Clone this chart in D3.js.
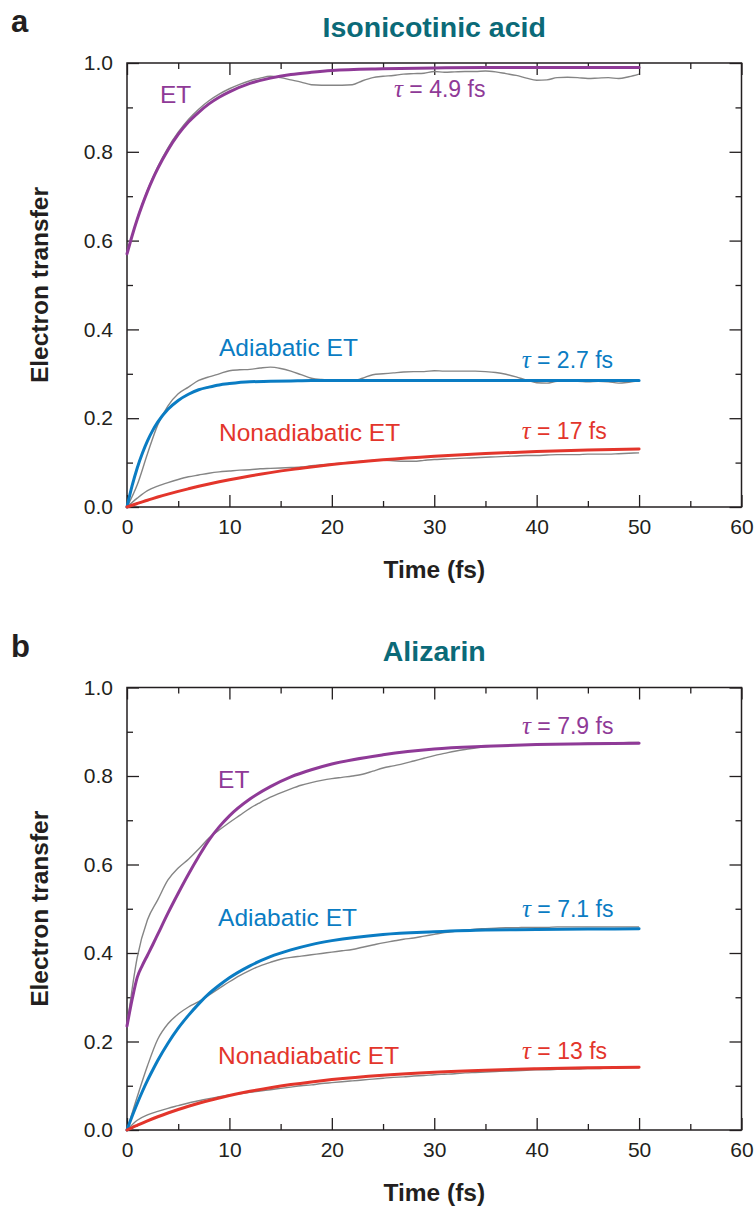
<!DOCTYPE html>
<html>
<head>
<meta charset="utf-8">
<script src="https://cdn.jsdelivr.net/npm/d3@7"></script>
<style>
  html, body { margin: 0; padding: 0; background: #fff; }
  svg { display: block; }
</style>
</head>
<body>
<svg id="chart" width="756" height="1208"></svg>
<script>
// ---- Time grids (fs) ----
const simTime = [0,1,2,3,4,5,6,7,8,9,10,11,12,13,14,15,16,17,18,19,20,21,22,23,24,25,
  26,27,28,29,30,31,32,33,34,35,36,37,38,39,40,41,42,43,44,45,46,47,48,49,50];
const fitTime = [0,0.5,1,1.5,2,2.5,3,4,5,6,7,8,9,10,12,14,16,18,20,25,30,35,40,45,50];

// ---- Panel a: isonicotinic acid ----
const isoEtSim = [0.570,0.650,0.714,0.766,0.809,0.844,0.873,0.896,0.915,0.930,0.942,0.952,0.960,0.966,0.970,
  0.967,0.962,0.957,0.951,0.950,0.950,0.950,0.951,0.960,0.967,0.970,0.972,0.975,0.976,0.977,0.981,0.979,
  0.980,0.981,0.981,0.982,0.980,0.976,0.972,0.966,0.961,0.962,0.967,0.968,0.967,0.965,0.966,0.967,0.965,0.969,0.975];
const isoAdiSim = [0,0.050,0.120,0.185,0.228,0.255,0.270,0.285,0.293,0.300,0.307,0.309,0.310,0.313,0.315,
  0.312,0.306,0.298,0.290,0.287,0.286,0.285,0.284,0.290,0.298,0.300,0.302,0.304,0.305,0.305,0.307,0.306,
  0.306,0.306,0.306,0.305,0.303,0.299,0.293,0.286,0.280,0.279,0.283,0.283,0.283,0.282,0.283,0.282,0.279,0.281,0.284];
const isoNonSim = [0,0.020,0.037,0.047,0.055,0.062,0.068,0.072,0.076,0.079,0.081,0.083,0.084,0.086,0.087,
  0.088,0.089,0.090,0.093,0.095,0.097,0.099,0.101,0.103,0.105,0.105,0.104,0.103,0.103,0.105,0.107,0.108,
  0.109,0.110,0.111,0.112,0.113,0.114,0.115,0.116,0.116,0.117,0.118,0.118,0.118,0.119,0.119,0.119,0.120,0.121,0.122];
const isoEtFit = [0.570,0.611,0.648,0.681,0.711,0.738,0.762,0.804,0.839,0.867,0.889,0.908,0.923,0.935,
  0.954,0.966,0.974,0.979,0.983,0.987,0.989,0.990,0.990,0.990,0.990];
const isoAdiFit = [0,0.048,0.088,0.121,0.149,0.172,0.191,0.220,0.240,0.254,0.264,0.270,0.275,0.278,
  0.282,0.283,0.284,0.285,0.285,0.285,0.285,0.285,0.285,0.285,0.285];
const isoNonFit = [0,0.0040,0.0079,0.0117,0.0153,0.0189,0.0224,0.0290,0.0352,0.0410,0.0466,0.0518,0.0567,
  0.0614,0.0699,0.0774,0.0842,0.0901,0.0955,0.1063,0.1144,0.1204,0.1249,0.1282,0.1306];
const isoTau = ["4.9", "2.7", "17"];

// ---- Panel b: alizarin ----
const aliEtSim = [0.235,0.390,0.475,0.520,0.565,0.592,0.612,0.635,0.660,0.678,0.695,0.711,0.727,0.740,0.752,
  0.762,0.771,0.779,0.785,0.790,0.794,0.797,0.800,0.804,0.811,0.818,0.823,0.828,0.834,0.840,0.846,0.851,
  0.856,0.860,0.863,0.866,0.868,0.869,0.870,0.870,0.871,0.872,0.872,0.873,0.873,0.874,0.874,0.875,0.875,0.876,0.876];
const aliAdiSim = [0,0.075,0.145,0.205,0.240,0.262,0.278,0.290,0.305,0.320,0.335,0.349,0.361,0.371,0.379,
  0.386,0.390,0.393,0.396,0.399,0.402,0.405,0.408,0.413,0.418,0.423,0.427,0.431,0.434,0.438,0.442,0.446,
  0.449,0.452,0.454,0.455,0.456,0.457,0.457,0.458,0.458,0.458,0.459,0.459,0.459,0.459,0.459,0.459,0.459,0.459,0.459];
const aliNonSim = [0,0.022,0.034,0.042,0.049,0.055,0.061,0.066,0.071,0.075,0.079,0.082,0.085,0.088,0.091,
  0.094,0.097,0.100,0.102,0.105,0.107,0.109,0.111,0.113,0.115,0.117,0.119,0.120,0.122,0.123,0.125,0.126,
  0.127,0.129,0.130,0.131,0.132,0.133,0.134,0.135,0.136,0.136,0.137,0.138,0.138,0.139,0.139,0.140,0.140,0.141,0.141];
const aliEtFit = [0.235,0.295,0.345,0.372,0.395,0.418,0.442,0.490,0.535,0.578,0.618,0.655,0.685,0.710,
  0.748,0.776,0.798,0.814,0.827,0.848,0.861,0.867,0.871,0.873,0.874];
const aliAdiFit = [0,0.031,0.060,0.087,0.112,0.135,0.157,0.196,0.230,0.259,0.285,0.308,0.327,0.344,
  0.371,0.392,0.407,0.419,0.428,0.442,0.448,0.452,0.453,0.454,0.455];
const aliNonFit = [0,0.0055,0.0107,0.0158,0.0207,0.0254,0.0299,0.0384,0.0463,0.0536,0.0604,0.0667,0.0724,
  0.0778,0.0874,0.0956,0.1027,0.1087,0.1139,0.1238,0.1306,0.1352,0.1383,0.1404,0.1419];
const aliTau = ["7.9", "7.1", "13"];

// ---- Axis ticks ----
const xMajorTicks = [0,10,20,30,40,50,60];
const xMinorTicks = [5,15,25,35,45,55];
const yMajorTicks = [0,0.2,0.4,0.6,0.8,1.0];
const yMinorTicks = [0.1,0.3,0.5,0.7,0.9];
const seriesNames = ["ET", "Adiabatic ET", "Nonadiabatic ET"];

// ---- Styling ----
const COLORS = { et: "#8f3a97", adi: "#0a7cc3", non: "#e3352b", sim: "#858585", ink: "#231f20", title: "#0b6a78" };
const SANS = "'Liberation Sans', Arial, Helvetica, sans-serif";
const SERIF = "'Liberation Serif', 'Times New Roman', serif";

const svg = d3.select("#chart");
const X0 = 127, X1 = 741.5;

const panels = [
  { letter: "a", title: "Isonicotinic acid", top: 63, bottom: 507,
    sims: [isoEtSim, isoAdiSim, isoNonSim], fits: [isoEtFit, isoAdiFit, isoNonFit], taus: isoTau,
    nameAt: [[3.22, 0.9106], [8.98, 0.340], [8.98, 0.1486]],
    tauAt: [[26.07, 0.9234], [38.54, 0.3124], [38.54, 0.153]] },
  { letter: "b", title: "Alizarin", top: 687.5, bottom: 1130,
    sims: [aliEtSim, aliAdiSim, aliNonSim], fits: [aliEtFit, aliAdiFit, aliNonFit], taus: aliTau,
    nameAt: [[8.89, 0.774], [8.89, 0.460], [8.89, 0.149]],
    tauAt: [[38.57, 0.895], [38.57, 0.481], [38.57, 0.160]] }
];

const seriesColors = [COLORS.et, COLORS.adi, COLORS.non];

panels.forEach(p => {
  const g = svg.append("g");
  const x = d3.scaleLinear().domain([0, 60]).range([X0, X1]);
  const y = d3.scaleLinear().domain([0, 1]).range([p.bottom, p.top]);

  // panel letter and title
  g.append("text").attr("x", 11).attr("y", p.top - 30.7)
    .attr("font-family", SANS).attr("font-weight", "bold").attr("font-size", 31)
    .attr("fill", COLORS.ink).text(p.letter);
  g.append("text").attr("x", (X0 + X1) / 2).attr("y", p.top - 26.3)
    .attr("text-anchor", "middle").attr("font-family", SANS).attr("font-weight", "bold")
    .attr("font-size", 28.5).attr("fill", COLORS.title).text(p.title);

  // axes: major ticks with labels, minor ticks, mirrored on top and right
  const styleAxis = sel => {
    sel.select(".domain").remove();
    sel.selectAll("line").attr("stroke", COLORS.ink).attr("stroke-width", 1.3);
    sel.selectAll("text").attr("font-family", SANS).attr("font-size", 21).attr("fill", COLORS.ink);
  };
  g.append("g").attr("transform", `translate(0,${p.bottom})`)
    .call(d3.axisBottom(x).tickValues(xMajorTicks).tickSize(-12).tickPadding(12).tickFormat(d3.format("d")))
    .call(styleAxis);
  g.append("g").attr("transform", `translate(0,${p.bottom})`)
    .call(d3.axisBottom(x).tickValues(xMinorTicks).tickSize(-6).tickFormat(""))
    .call(styleAxis);
  g.append("g").attr("transform", `translate(0,${p.top})`)
    .call(d3.axisTop(x).tickValues(xMajorTicks).tickSize(-12).tickFormat(""))
    .call(styleAxis);
  g.append("g").attr("transform", `translate(0,${p.top})`)
    .call(d3.axisTop(x).tickValues(xMinorTicks).tickSize(-6).tickFormat(""))
    .call(styleAxis);
  g.append("g").attr("transform", `translate(${X0},0)`)
    .call(d3.axisLeft(y).tickValues(yMajorTicks).tickSize(-12).tickPadding(14).tickFormat(d3.format(".1f")))
    .call(styleAxis);
  g.append("g").attr("transform", `translate(${X0},0)`)
    .call(d3.axisLeft(y).tickValues(yMinorTicks).tickSize(-6).tickFormat(""))
    .call(styleAxis);
  g.append("g").attr("transform", `translate(${X1},0)`)
    .call(d3.axisRight(y).tickValues(yMajorTicks).tickSize(-12).tickFormat(""))
    .call(styleAxis);
  g.append("g").attr("transform", `translate(${X1},0)`)
    .call(d3.axisRight(y).tickValues(yMinorTicks).tickSize(-6).tickFormat(""))
    .call(styleAxis);

  // frame
  g.append("rect").attr("x", X0).attr("y", p.top).attr("width", X1 - X0).attr("height", p.bottom - p.top)
    .attr("fill", "none").attr("stroke", COLORS.ink).attr("stroke-width", 1.5);

  // axis titles
  g.append("text").attr("x", (X0 + X1) / 2).attr("y", p.bottom + 71)
    .attr("text-anchor", "middle").attr("font-family", SANS).attr("font-weight", "bold")
    .attr("font-size", 24.5).attr("fill", COLORS.ink).text("Time (fs)");
  g.append("text")
    .attr("transform", `translate(48,${(p.top + p.bottom) / 2}) rotate(-90)`)
    .attr("text-anchor", "middle").attr("font-family", SANS).attr("font-weight", "bold")
    .attr("font-size", 24.5).attr("fill", COLORS.ink).text("Electron transfer");

  // curves: simulated (grey) then fitted (coloured)
  const line = d3.line().curve(d3.curveMonotoneX).x(d => x(d[0])).y(d => y(d[1]));
  p.sims.forEach(vals => {
    g.append("path").datum(simTime.map((t, i) => [t, vals[i]]))
      .attr("d", line).attr("fill", "none").attr("stroke", COLORS.sim)
      .attr("stroke-width", 1.4).attr("stroke-linejoin", "round");
  });
  p.fits.forEach((vals, k) => {
    g.append("path").datum(fitTime.map((t, i) => [t, vals[i]]))
      .attr("d", line).attr("fill", "none").attr("stroke", seriesColors[k])
      .attr("stroke-width", 3).attr("stroke-linejoin", "round").attr("stroke-linecap", "round");
  });

  // curve names and time constants
  seriesNames.forEach((name, k) => {
    g.append("text").attr("x", x(p.nameAt[k][0])).attr("y", y(p.nameAt[k][1]))
      .attr("font-family", SANS).attr("font-size", 24.5).attr("fill", seriesColors[k]).text(name);
    const t = g.append("text").attr("x", x(p.tauAt[k][0])).attr("y", y(p.tauAt[k][1]))
      .attr("font-family", SANS).attr("font-size", 23).attr("fill", seriesColors[k]);
    t.append("tspan").attr("font-family", SERIF).attr("font-style", "italic").attr("font-size", 25).text("τ");
    t.append("tspan").text(` = ${p.taus[k]} fs`);
  });
});
</script>
</body>
</html>
